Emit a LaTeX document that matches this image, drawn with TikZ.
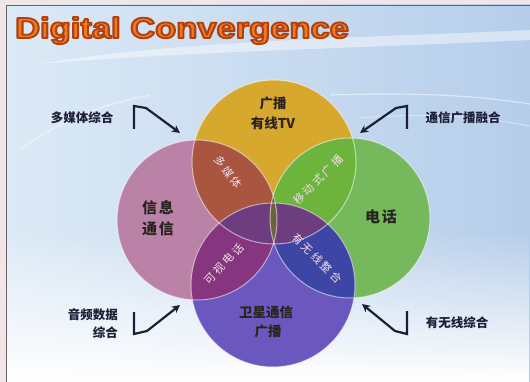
\documentclass[tikz,border=0pt]{standalone}
\usepackage{fontspec}
\setmainfont{Liberation Sans}
\newfontfamily\cjk{Noto Sans CJK SC}
\newfontfamily\cjkwide{Noto Sans CJK SC}[LetterSpace=12]
\newfontfamily\cjklens{Noto Sans CJK SC}[LetterSpace=22]
\usetikzlibrary{arrows.meta,fadings}
\definecolor{framepink}{HTML}{F3E5E7}
\definecolor{bgL}{HTML}{DCEAF6}
\definecolor{bgR}{HTML}{B6CDEA}
\definecolor{ctop}{HTML}{D7A82E}
\definecolor{cleft}{HTML}{BA82A7}
\definecolor{cright}{HTML}{76B85C}
\definecolor{cbot}{HTML}{6A58BF}
\definecolor{cTL}{HTML}{A9553F}
\definecolor{cTR}{HTML}{6DB43C}
\definecolor{cLB}{HTML}{86357F}
\definecolor{cRB}{HTML}{3D46A4}
\definecolor{cTB}{HTML}{6E3D80}
\definecolor{cLR}{HTML}{6B6040}
\definecolor{ink}{HTML}{1D1F38}
\definecolor{lbl}{HTML}{2A2420}
\definecolor{lens}{HTML}{F3DEE8}
\definecolor{tmain}{HTML}{EF7C22}
\newcommand\outlinedtitle[1]{\special{pdf:literal direct 0.70 0.25 0.06 RG 1.8 w 1 j 2 Tr}#1\special{pdf:literal direct 0 Tr}}
\tikzset{
  titletext/.style={font=\fontsize{29}{30}\selectfont\bfseries, anchor=base west, xscale=1.19, inner sep=0},
  cirlbl/.style={font=\cjk\bfseries\fontsize{13.5}{16}\selectfont, text=lbl, inner sep=0},
  cirbig/.style={font=\cjkwide\bfseries\fontsize{15}{18}\selectfont, text=lbl, inner sep=0},
  lenslbl/.style={font=\cjklens\fontsize{11}{13}\selectfont, text=lens, inner sep=0},
  sidelbl/.style={font=\cjk\bfseries\fontsize{12.5}{15}\selectfont, text=ink, inner sep=0},
  pointer/.style={draw=ink, line width=2.2pt, line join=miter, -{Stealth[length=8pt,width=8pt,inset=2.5pt]}},
  rim/.style={draw=white, draw opacity=0.55, line width=1pt}
}
\begin{document}
\begin{tikzpicture}[x=1pt,y=-1pt]
\useasboundingbox (0,0) rectangle (530,382);
% background
\fill[framepink] (0,0) rectangle (530,382);
\shade[left color=bgL, right color=bgR] (6,5) rectangle (530,382);
\fill[white, path fading=north] (6,230) rectangle (530,382);
\fill[white, fill opacity=0.45] (40,64) .. controls (180,40) and (360,38) .. (530,30) -- (530,40) .. controls (360,48) and (180,52) .. (40,64) -- cycle;
\draw[white, opacity=0.5, line width=1.2pt] (330,95) .. controls (420,92) and (480,96) .. (530,104);
\draw[white, opacity=0.4, line width=1pt] (360,118) .. controls (430,112) and (490,118) .. (530,126);
\draw[white, opacity=0.35, line width=2pt] (20,150) .. controls (60,120) and (100,105) .. (150,95);
\draw[gray!80!black, line width=0.8pt] (6,382) -- (6,5) -- (530,5);
% title
\node[titletext, text=tmain] (title) at (15,38) {\outlinedtitle{Digital Convergence}};
% circles
\coordinate (cT) at (274,162);
\coordinate (cL) at (197,220);
\coordinate (cR) at (350,218);
\coordinate (cB) at (273,285);
\fill[ctop] (cT) circle (82);
\fill[cleft] (cL) circle (80);
\fill[cright] (cR) circle (80);
\fill[cbot] (cB) circle (82);
\begin{scope}\clip (cT) circle (82); \fill[cTL] (cL) circle (80); \end{scope}
\begin{scope}\clip (cT) circle (82); \fill[cTR] (cR) circle (80); \end{scope}
\begin{scope}\clip (cB) circle (82); \fill[cLB] (cL) circle (80); \end{scope}
\begin{scope}\clip (cB) circle (82); \fill[cRB] (cR) circle (80); \end{scope}
\begin{scope}\clip (cB) circle (82); \fill[cTB] (cT) circle (82); \end{scope}
\begin{scope}\clip (cL) circle (80); \fill[cLR] (cR) circle (80); \end{scope}
\draw[rim] (cT) circle (82);
\draw[rim] (cL) circle (80);
\draw[rim] (cR) circle (80);
\draw[rim] (cB) circle (82);
% circle labels
\node[cirlbl] (t1) at (273,103) {广播};
\node[cirlbl] (t2) at (273,123) {有线TV};
\node[cirbig] (l1) at (158,208) {信息};
\node[cirbig] (l2) at (158,229) {通信};
\node[cirbig] (r1) at (381,217) {电话};
\node[cirlbl] (b1) at (266,312) {卫星通信};
\node[cirlbl] (b2) at (268,331) {广播};
% lens labels
\node[lenslbl, rotate=-53] (x1) at (228,172) {多媒体};
\node[lenslbl, rotate=45] (x2) at (318,180) {移动式广播};
\node[lenslbl, rotate=47] (x3) at (224,264) {可视电话};
\node[lenslbl, rotate=-45] (x4) at (317,258) {有无线整合};
% side labels
\node[sidelbl] (s1) at (82,118) {多媒体综合};
\node[sidelbl] (s2) at (463,118) {通信广播融合};
\node[sidelbl, anchor=east] (s3) at (118,315) {音频数据};
\node[sidelbl, anchor=east] (s4) at (118,333) {综合};
\node[sidelbl] (s5) at (457,323) {有无线综合};
% pointers
\coordinate (p1a) at (134,129); \coordinate (p1b) at (134,106); \coordinate (p1c) at (146,108); \coordinate (p1d) at (180,133);
\coordinate (p2a) at (407,129); \coordinate (p2b) at (407,106); \coordinate (p2c) at (396,108); \coordinate (p2d) at (360,133);
\coordinate (p3a) at (134,312); \coordinate (p3b) at (134,334); \coordinate (p3c) at (147,331); \coordinate (p3d) at (180,305);
\coordinate (p4a) at (407,311); \coordinate (p4b) at (407,334); \coordinate (p4c) at (395,331); \coordinate (p4d) at (362,304);
\draw[pointer] (p1a) -- (p1b) -- (p1c) -- (p1d);
\draw[pointer] (p2a) -- (p2b) -- (p2c) -- (p2d);
\draw[pointer] (p3a) -- (p3b) -- (p3c) -- (p3d);
\draw[pointer] (p4a) -- (p4b) -- (p4c) -- (p4d);
\end{tikzpicture}
\end{document}
